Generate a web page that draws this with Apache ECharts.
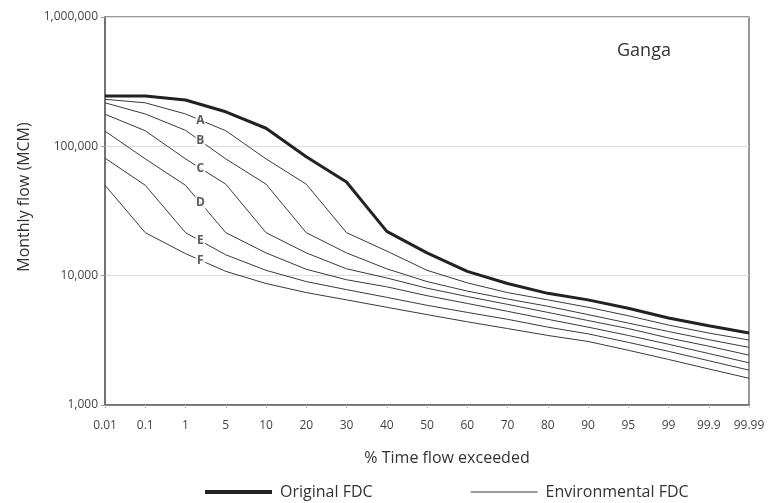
<!DOCTYPE html>
<html>
<head>
<meta charset="utf-8">
<script src="https://cdn.jsdelivr.net/npm/echarts@6/dist/echarts.min.js"></script>
<style>
html,body{margin:0;padding:0;background:#fff;}
#chart{width:774px;height:503px;}
</style>
</head>
<body>
<div id="chart"></div>
<script>
// % time flow exceeded (category positions)
var categories = ['0.01','0.1','1','5','10','20','30','40','50','60','70','80','90','95','99','99.9','99.99'];
// Monthly flow (MCM)
var originalFDC = [245000, 245000, 228000, 185000, 138000, 83000, 53000, 22000, 15000, 10800, 8700, 7300, 6500, 5600, 4700, 4100, 3600];
var envA = [231000, 217000, 178000, 132000, 80000, 51000, 21500, 15500, 11000, 8800, 7400, 6500, 5700, 4900, 4150, 3600, 3180];
var envB = [217000, 178000, 133000, 80000, 51000, 21500, 15000, 11300, 9000, 7600, 6600, 5800, 5000, 4300, 3700, 3200, 2790];
var envC = [177000, 132000, 80000, 51000, 21500, 15000, 11300, 9600, 8000, 6900, 6000, 5200, 4500, 3900, 3300, 2850, 2430];
var envD = [131000, 80000, 50000, 21500, 15000, 11200, 9300, 8200, 7000, 6100, 5300, 4600, 4000, 3450, 2950, 2500, 2120];
var envE = [81000, 50000, 21500, 14500, 11000, 9000, 7800, 6800, 5900, 5200, 4600, 4000, 3550, 3050, 2600, 2200, 1860];
var envF = [50000, 21500, 14800, 10800, 8700, 7400, 6500, 5700, 5000, 4400, 3900, 3450, 3100, 2650, 2250, 1900, 1610];
var envNames = ['A','B','C','D','E','F'];
var envSeries = [envA, envB, envC, envD, envE, envF];
var yTicks = [1000, 10000, 100000, 1000000];

function pairs(arr){ return arr.map(function(v,i){ return [i, v]; }); }
var labelPos = 2.37; // class labels sit between '1' and '5'
var labelData = envSeries.map(function(arr, k){
  var a = Math.log10(arr[2]), b = Math.log10(arr[3]);
  var f = labelPos - 2;
  return {value:[labelPos, Math.pow(10, a + f*(b-a))], name: envNames[k]};
});

var FONT = 'Open Sans';
var chart = echarts.init(document.getElementById('chart'), null, {renderer:'canvas'});
var series = [];
envSeries.forEach(function(arr){
  series.push({
    name:'Environmental FDC', type:'line', data:pairs(arr), symbol:'none', showSymbol:false, z:2,
    lineStyle:{color:'#3a3a3a', width:1}, itemStyle:{color:'#3a3a3a'}, animation:false
  });
});
series.push({
  name:'Original FDC', type:'line', data:pairs(originalFDC), symbol:'none', showSymbol:false, z:3,
  lineStyle:{color:'#222', width:3}, itemStyle:{color:'#222'}, animation:false
});
series.push({
  name:'labels', type:'scatter', data:labelData, symbol:'rect', symbolSize:[10,14], z:5,
  itemStyle:{color:'#fff'}, animation:false, silent:true,
  label:{show:true, position:'inside', formatter:'{b}', color:'#333', fontFamily:FONT, fontSize:12, fontWeight:'bold'}
});

chart.setOption({
  animation:false,
  backgroundColor:'#fff',
  title:{text:'Ganga', left:612, top:37, textStyle:{fontFamily:FONT, fontSize:18, fontWeight:'normal', color:'#333'}},
  grid:{left:105, right:25, top:17, bottom:98, show:true, borderColor:'#777', borderWidth:1.5, containLabel:false, outerBoundsMode:'none'},
  legend:{
    data:[
      {name:'Original FDC', icon:'path://M0,0H67V4H0Z'},
      {name:'Environmental FDC', icon:'path://M0,0H67V1H0Z'}
    ],
    left:200, top:479, itemWidth:67, itemHeight:14, itemGap:98, symbolKeepAspect:true,
    textStyle:{fontFamily:FONT, fontSize:16, color:'#333', padding:[0,0,0,3]}
  },
  xAxis:{
    type:'value', min:0, max:categories.length-1, interval:1,
    name:'% Time flow exceeded', nameLocation:'middle', nameGap:45,
    nameTextStyle:{fontFamily:FONT, fontSize:16, color:'#333', padding:[0,0,0,40]},
    axisLine:{lineStyle:{color:'#666', width:1.5}},
    axisTick:{show:true, length:3, lineStyle:{color:'#bbb'}},
    splitLine:{show:false},
    axisLabel:{fontFamily:FONT, fontSize:12, color:'#444', margin:15, formatter:function(v){ return categories[v]; }}
  },
  yAxis:{
    type:'log', logBase:10, min:yTicks[0], max:yTicks[yTicks.length-1],
    name:'Monthly flow (MCM)', nameLocation:'middle', nameGap:73, nameRotate:90,
    nameTextStyle:{fontFamily:FONT, fontSize:16, color:'#333', padding:[0,0,0,28]},
    axisLine:{show:true, lineStyle:{color:'#666', width:1.5}},
    axisTick:{show:true, length:4, lineStyle:{color:'#999'}},
    minorTick:{show:false},
    splitLine:{show:true, lineStyle:{color:'#ddd', width:1}},
    axisLabel:{fontFamily:FONT, fontSize:12, color:'#444', margin:7, formatter:function(v){ return Number(v).toLocaleString('en-US'); }}
  },
  series:series
});
</script>
</body>
</html>
